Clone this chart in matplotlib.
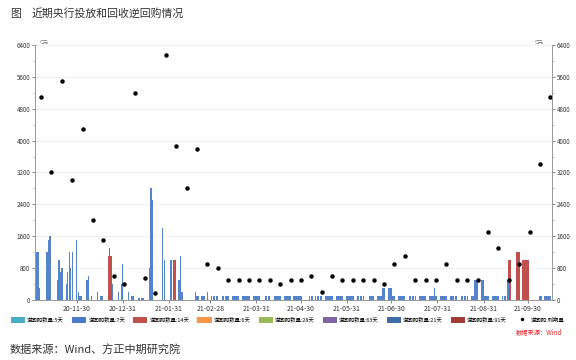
import numpy as np
import pandas as pd
import matplotlib
matplotlib.use("Agg")
import matplotlib.pyplot as plt
import matplotlib.dates as mdates
from matplotlib.patches import Patch
from matplotlib.lines import Line2D

plt.rcParams['font.family'] = ['Noto Sans CJK SC', 'DejaVu Sans']

# 7-day reverse repo, irregular days (亿元)
r7_dates = ["2020-11-02", "2020-11-03", "2020-11-04", "2020-11-05",
            "2020-11-10", "2020-11-11", "2020-11-12",
            "2020-11-17", "2020-11-18", "2020-11-19", "2020-11-20",
            "2020-11-23", "2020-11-24", "2020-11-25", "2020-11-26", "2020-11-27",
            "2020-11-30", "2020-12-01", "2020-12-02", "2020-12-03",
            "2020-12-07", "2020-12-08", "2020-12-10",
            "2020-12-14", "2020-12-16", "2020-12-17", "2020-12-24",
            "2020-12-28", "2020-12-30", "2020-12-31",
            "2021-01-04", "2021-01-06", "2021-01-07", "2021-01-11", "2021-01-13", "2021-01-14",
            "2021-01-18", "2021-01-19", "2021-01-20", "2021-01-27", "2021-01-28",
            "2021-02-01", "2021-02-02", "2021-02-07", "2021-02-08", "2021-02-09",
            "2021-02-18", "2021-02-19", "2021-02-20", "2021-02-26",
            "2021-06-24", "2021-06-25", "2021-06-28", "2021-06-29", "2021-06-30",
            "2021-07-29",
            "2021-08-25", "2021-08-26", "2021-08-27", "2021-08-30", "2021-08-31",
            "2021-09-16", "2021-09-17"]
r7_values = [500, 1200, 1200, 300,
             1200, 1500, 1600,
             500, 1000, 700, 800,
             400, 700, 1200, 800, 1200,
             1500, 200, 100, 100,
             500, 600, 100,
             200, 100, 100, 400,
             200, 400, 900,
             200, 100, 100, 50, 50, 50,
             800, 2800, 2500, 1800, 1000,
             1000, 1000, 500, 1100, 200,
             200, 100, 100, 200,
             300, 300, 300, 300, 300,
             300,
             500, 500, 500, 500, 500,
             500, 500]

# stretches where the 7-day operation was a flat 100 each working day
r7_runs = [("2021-02-22", "2021-06-23", 100),
           ("2021-07-01", "2021-07-28", 100),
           ("2021-07-30", "2021-08-24", 100),
           ("2021-09-01", "2021-09-15", 100),
           ("2021-10-08", "2021-10-15", 100)]
holidays = ["2021-02-25", "2021-04-05", "2021-05-03", "2021-05-04", "2021-05-05", "2021-06-14"]
workdays = ["2021-04-25", "2021-05-08", "2021-10-09"]

# 14-day reverse repo
r14_dates = ["2020-12-21", "2020-12-22", "2020-12-23", "2021-02-03", "2021-02-04",
             "2021-09-17", "2021-09-18", "2021-09-22", "2021-09-23", "2021-09-24",
             "2021-09-26", "2021-09-27", "2021-09-28", "2021-09-29", "2021-09-30"]
r14_values = [1100, 1300, 1100, 1000, 1000,
              1000, 1000, 1200, 1200, 1200,
              1000, 1000, 1000, 1000, 1000]

# weekly maturities (dots)
mat_dates = pd.date_range("2020-11-06", periods=50, freq="7D")
mat_values = [5100, 3200, 5500, 3000, 4300, 2000, 1500, 600, 400, 5200,
              550, 170, 6150, 3860, 2800, 3800, 900, 800, 500, 500,
              500, 500, 500, 400, 500, 500, 600, 200, 600, 500,
              500, 500, 500, 400, 900, 1100, 500, 500, 500, 900,
              500, 500, 500, 1700, 1300, 500, 900, 1700, 3400, 5100]

legend_labels = ["逆回购数量:5天", "逆回购数量:7天", "逆回购数量:14天", "逆回购数量:6天",
                 "逆回购数量:28天", "逆回购数量:63天", "逆回购数量:21天", "逆回购数量:91天"]
legend_colors = ["#4BACC6", "#4A7BC4", "#C0504D", "#F79646",
                 "#9BBB59", "#8064A2", "#3F6CA6", "#9E3B38"]

tick_dates = ["2020-11-30", "2020-12-31", "2021-01-31", "2021-02-28", "2021-03-31", "2021-04-30",
              "2021-05-31", "2021-06-30", "2021-07-31", "2021-08-31", "2021-09-30"]

# expand the flat runs
run_d, run_v = [], []
for start, end, val in r7_runs:
    days = pd.bdate_range(start, end, freq="C", holidays=holidays)
    run_d += list(days)
    run_v += [val] * len(days)
for d in workdays:
    run_d.append(pd.Timestamp(d))
    run_v.append(100)

d7 = pd.to_datetime(r7_dates).tolist() + run_d
v7 = r7_values + run_v
d14 = pd.to_datetime(r14_dates)

fig = plt.figure(figsize=(5.76, 3.6), dpi=100)
ax = fig.add_axes([0.061, 0.167, 0.897, 0.708])

ax.bar(d14 + pd.Timedelta(hours=6), r14_values, width=1.0, color=legend_colors[2], zorder=2)
ax.bar(d7, v7, width=0.9, color="#5584CA", zorder=3)
ax.plot(mat_dates, mat_values, linestyle="none", marker="o", markersize=2.2,
        color="black", zorder=4)

ax.set_xlim(pd.Timestamp("2020-11-02"), pd.Timestamp("2021-10-16"))
ax.set_ylim(0, 6400)
ax.set_yticks(np.arange(0, 6401, 800))
ax.set_yticks(np.arange(0, 6401, 400), minor=True)
ax.grid(axis="y", color="#eeeeee", linewidth=0.6, zorder=0)

ax.set_xticks(pd.to_datetime(tick_dates))
ax.xaxis.set_major_formatter(mdates.DateFormatter("%y-%m-%d"))

ax2 = ax.twinx()
ax2.set_ylim(0, 6400)
ax2.set_yticks(np.arange(0, 6401, 800))
ax2.set_yticks(np.arange(0, 6401, 400), minor=True)

for a in (ax, ax2):
    a.tick_params(axis="both", which="major", labelsize=4.5, colors="#555555",
                  length=2, width=0.5, pad=1.5, labelcolor="#333333")
    a.tick_params(axis="y", which="minor", length=1.2, width=0.4, colors="#888888")
    for s in ["top"]:
        a.spines[s].set_visible(False)
    for s in ["left", "right", "bottom"]:
        a.spines[s].set_color("#999999")
        a.spines[s].set_linewidth(0.6)
ax.tick_params(axis="x", labelsize=5)

fig.text(0.070, 0.878, "亿元", fontsize=3.2, color="#777777")
fig.text(0.928, 0.878, "亿元", fontsize=3.2, color="#777777")

fig.text(0.017, 0.962, "图", fontsize=7.8, color="#333333", va="center")
fig.text(0.055, 0.962, "近期央行投放和回收逆回购情况", fontsize=7.8, color="#333333", va="center")

handles = [Patch(facecolor=c, edgecolor="none") for c in legend_colors]
handles.append(Line2D([], [], linestyle="none", marker="o", markersize=1.5, color="black"))
fig.legend(handles, legend_labels + ["逆回购:到期量"], loc="center", ncol=9,
           bbox_to_anchor=(0.5, 0.112), fontsize=3.9, frameon=False,
           handlelength=2.6, handleheight=1.3, handletextpad=0.4, columnspacing=1.5,
           borderpad=0.2)

fig.text(0.975, 0.077, "数据来源：Wind", fontsize=4.5, color="#E8242A",
         style="italic", ha="right", va="center")
fig.text(0.017, 0.028, "数据来源：Wind、方正中期研究院", fontsize=8, color="#333333",
         style="italic", va="center")

fig.savefig("out.png", dpi=100)
